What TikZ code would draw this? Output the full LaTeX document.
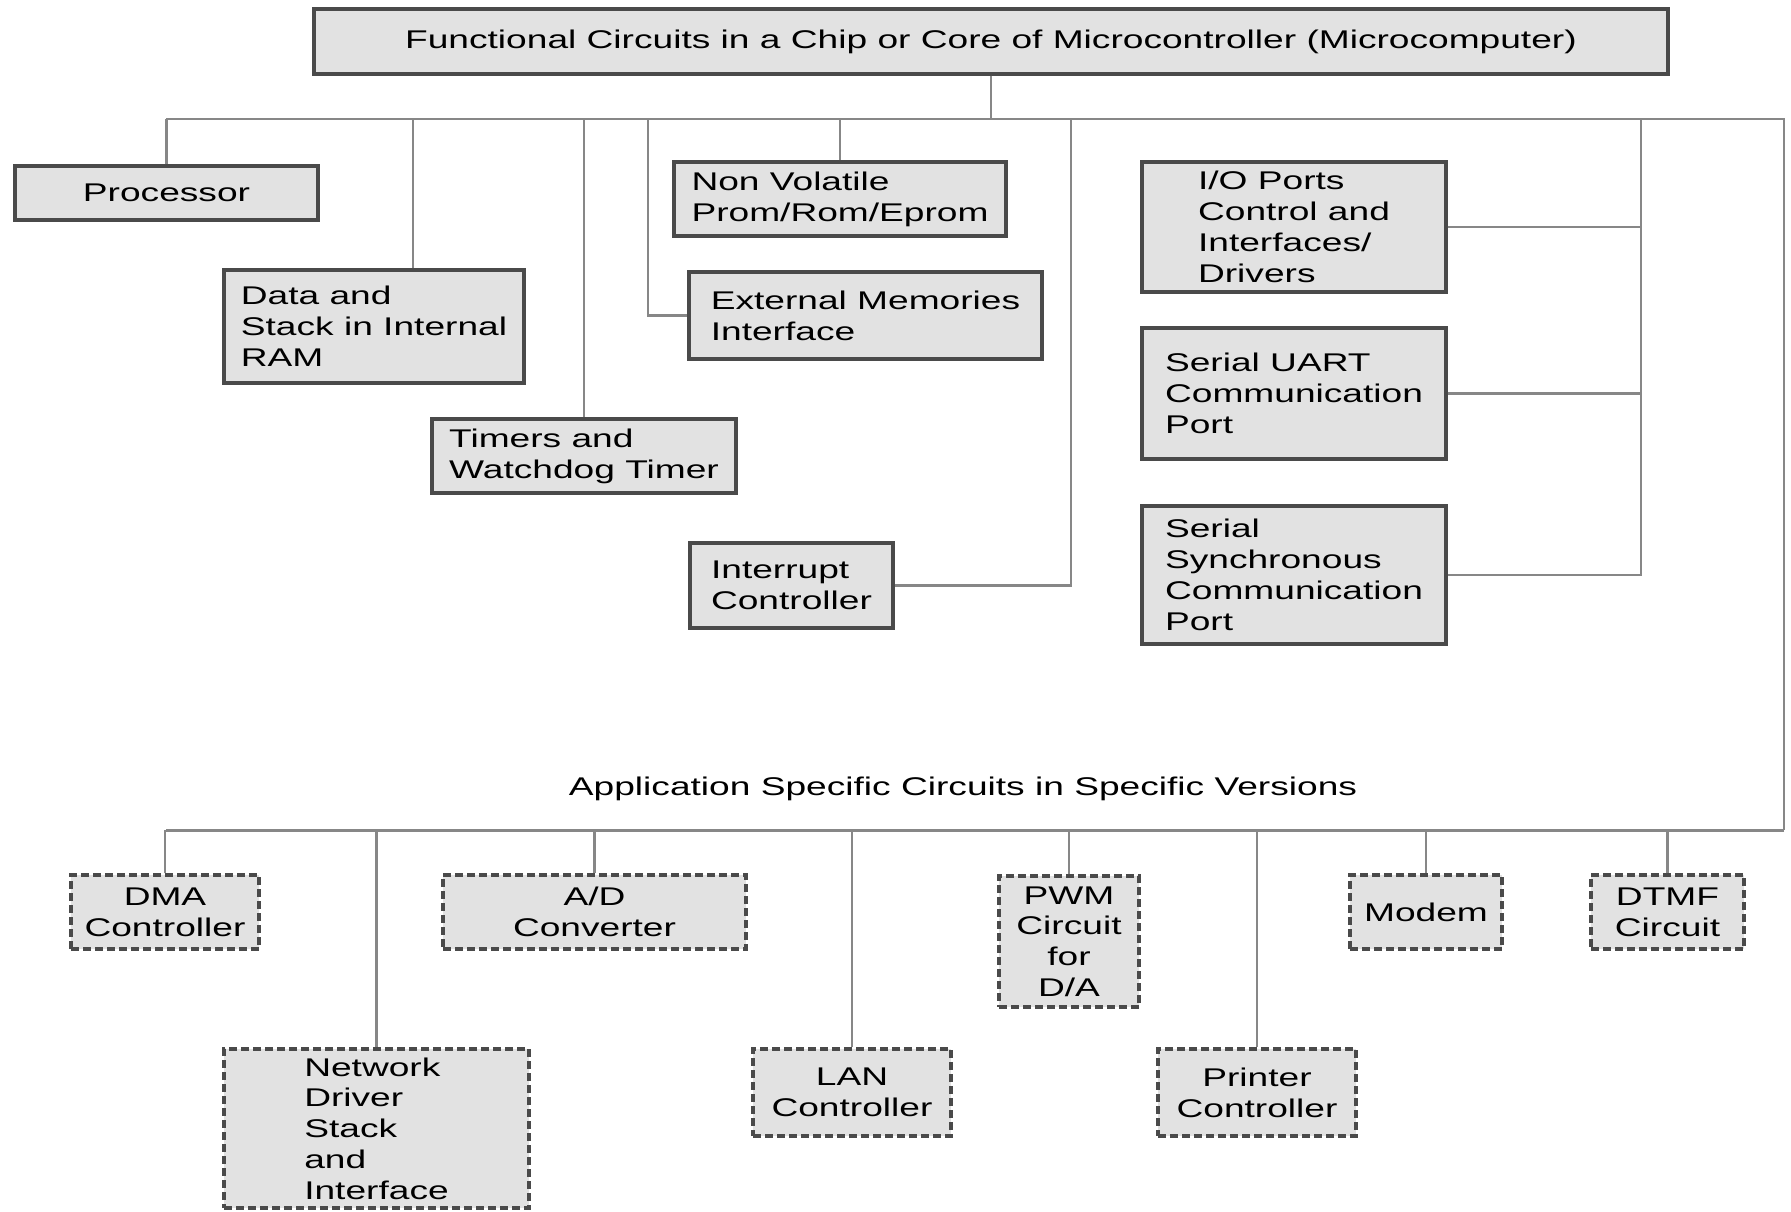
\documentclass[tikz,border=0pt]{standalone}
\usepackage{fontspec}
\setmainfont{Liberation Sans}[FakeStretch=1.45]
\definecolor{boxfill}{HTML}{E2E2E2}
\definecolor{boxline}{HTML}{4A4A4A}
\definecolor{linkgray}{HTML}{878787}
\begin{document}
\begin{tikzpicture}[x=0.5pt,y=-0.5pt,
  every node/.style={font=\fontsize{12.8}{15.4}\selectfont, inner sep=0pt, text=black},
  solidbox/.style={draw=boxline, fill=boxfill, line width=1.6pt, align=left},
  dashbox/.style={draw=boxline, fill=boxfill, line width=1.6pt, dash pattern=on 4pt off 2pt, align=center},
  link/.style={draw=linkgray, line width=1.1pt}]
\fill[white] (0,0) rectangle (1791,1211);
\useasboundingbox (0,0) rectangle (1791,1211);

% ---- core circuits ----
\node[solidbox, align=center, minimum width=677pt, minimum height=32.5pt] (top) at (991,41.5)
  {Functional Circuits in a Chip or Core of Microcontroller (Microcomputer)};

\node[solidbox, align=center, minimum width=151.5pt, minimum height=27pt] (proc) at (166.5,193) {Processor};
\node[solidbox, minimum width=150pt, minimum height=56.5pt] (data) at (374,326.5) {Data and\\Stack in Internal\\RAM};
\node[solidbox, minimum width=152pt, minimum height=37pt] (timers) at (584,456) {Timers and\\Watchdog Timer};
\node[solidbox, minimum width=166pt, minimum height=37pt] (nonvol) at (840,199) {Non Volatile\\Prom/Rom/Eprom};
\node[solidbox, minimum width=176.5pt, minimum height=43.5pt] (extmem) at (865.5,315.5) {External Memories\\Interface};
\node[solidbox, minimum width=101.5pt, minimum height=42.5pt] (intr) at (791.5,585.5) {Interrupt\\Controller};
\node[solidbox, minimum width=152pt, minimum height=65pt] (io) at (1294,227) {I/O Ports\\Control and\\Interfaces/\\Drivers};
\node[solidbox, minimum width=152pt, minimum height=65.5pt] (uart) at (1294,393.5) {Serial UART\\Communication\\Port};
\node[solidbox, minimum width=152pt, minimum height=69pt] (sync) at (1294,575) {Serial\\Synchronous\\Communication\\Port};

% ---- application specific circuits ----
\node (app) at (963,789) {Application Specific Circuits in Specific Versions};

\node[dashbox, minimum width=94pt, minimum height=37pt] (dma) at (165,912) {DMA\\Controller};
\node[dashbox, align=left, minimum width=152.5pt, minimum height=79.5pt] (net) at (376.5,1128.5) {Network\\Driver\\Stack\\and\\Interface};
\node[dashbox, minimum width=151.5pt, minimum height=37pt] (ad) at (594.5,912) {A/D\\Converter};
\node[dashbox, minimum width=99pt, minimum height=43.5pt] (lan) at (852,1092.5) {LAN\\Controller};
\node[dashbox, minimum width=70pt, minimum height=65.5pt] (pwm) at (1069,941.5) {PWM\\Circuit\\for\\D/A};
\node[dashbox, minimum width=99pt, minimum height=43.5pt] (printer) at (1257,1092.5) {Printer\\Controller};
\node[dashbox, minimum width=76pt, minimum height=37pt] (modem) at (1426,912) {Modem};
\node[dashbox, minimum width=76.5pt, minimum height=37pt] (dtmf) at (1667.5,912) {DTMF\\Circuit};

% ---- bus lines ----
\coordinate (busT) at (991,119);
\coordinate (busTL) at (166,119);
\coordinate (busTR) at (1784,119);
\coordinate (busBR) at (1784,830);
\coordinate (busBL) at (166,830);
\coordinate (dataTap) at (413,119);
\coordinate (extTap) at (648,119);
\coordinate (intTap) at (1071,119);
\coordinate (ioTap) at (1641,119);

\draw[link] (top.south) -- (busT);
\draw[link] (busTL) -- (busTR) -- (busBR);
\draw[link, line width=1.5pt] (busBR) -- (busBL);

\draw[link] (proc.north) -- (proc.north |- busT);
\draw[link] (dataTap) -- (dataTap |- data.north);
\draw[link] (timers.north) -- (timers.north |- busT);
\draw[link] (nonvol.north) -- (nonvol.north |- busT);
\draw[link] (extTap) |- (extmem.west);
\draw[link] (intr.east) -| (intTap);
\draw[link] (ioTap) -- (ioTap |- sync.east) -- (sync.east);
\draw[link] (io.east) -- (io.east -| ioTap);
\draw[link] (uart.east) -- (uart.east -| ioTap);

\draw[link] (dma.north) -- (dma.north |- busBL);
\draw[link] (net.north) -- (net.north |- busBL);
\draw[link] (ad.north) -- (ad.north |- busBL);
\draw[link] (lan.north) -- (lan.north |- busBL);
\draw[link] (pwm.north) -- (pwm.north |- busBL);
\draw[link] (printer.north) -- (printer.north |- busBL);
\draw[link] (modem.north) -- (modem.north |- busBL);
\draw[link] (dtmf.north) -- (dtmf.north |- busBL);
\end{tikzpicture}
\end{document}
